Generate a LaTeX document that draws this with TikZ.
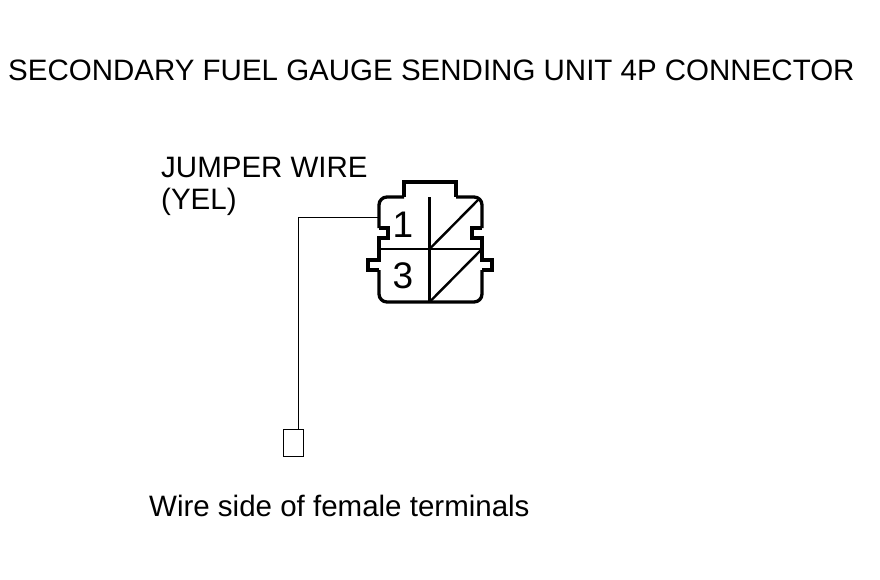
\documentclass[tikz,border=0pt]{standalone}
\usepackage{fontspec}
\setmainfont{Liberation Sans}
\tikzset{
  lbl/.style={inner sep=0pt,anchor=base west,text=black,font=\fontsize{29.5}{31}\selectfont},
  pinlbl/.style={inner sep=0pt,font=\fontsize{37}{37}\selectfont},
  body/.style={draw=black,line width=3.3pt,line join=miter},
  thin/.style={draw=black,line width=0.9pt},
  mid/.style={draw=black,line width=2.4pt},
}
\begin{document}
\begin{tikzpicture}[x=1pt,y=-1pt]
\useasboundingbox (0,0) rectangle (880,580);
\fill[white] (0,0) rectangle (880,580);
\node[lbl] (title) at (8,81) {SECONDARY FUEL GAUGE SENDING UNIT 4P CONNECTOR};
\node[lbl] (jw) at (161,177.5) {JUMPER WIRE};
\node[lbl] (yel) at (161,209.5) {(YEL)};
\node[lbl] (foot) at (149,516.5) {Wire side of female terminals};
% connector outline
\draw[body,rounded corners=8pt]
  (404,197) -- (379,197) -- (379,228);
\draw[body] (379,228) -- (388,228) -- (388,238) -- (379,238) -- (379,260) -- (368,260) -- (368,270) -- (379,270);
\draw[body,rounded corners=8pt] (379,270) -- (379,302) -- (482,302) -- (482,270);
\draw[body] (482,270) -- (492,270) -- (492,260) -- (482,260) -- (482,238) -- (472,238) -- (472,228) -- (482,228);
\draw[body,rounded corners=8pt] (482,228) -- (482,197) -- (456,197);
\draw[body] (404,197) -- (404,182) -- (456,182) -- (456,197);
\draw[mid] (379,249) -- (482,249);
\draw[mid] (429.5,197) -- (429.5,302);
\draw[mid] (429.5,249) -- (479,199);
\draw[mid] (429.5,302) -- (481,250);
\node[pinlbl] (p1) at (403,225) {1};
\node[pinlbl] (p3) at (403,276) {3};
\coordinate (pin) at (379,217);
\node[draw=black,line width=0.9pt,minimum width=20pt,minimum height=27pt,inner sep=0pt] (box) at (293,442.5) {};
\coordinate (wireend) at ([xshift=5pt]box.north);
\coordinate (bend) at (298,217);
\draw[thin] (pin) -- (bend) -- (wireend);
\end{tikzpicture}
\end{document}
